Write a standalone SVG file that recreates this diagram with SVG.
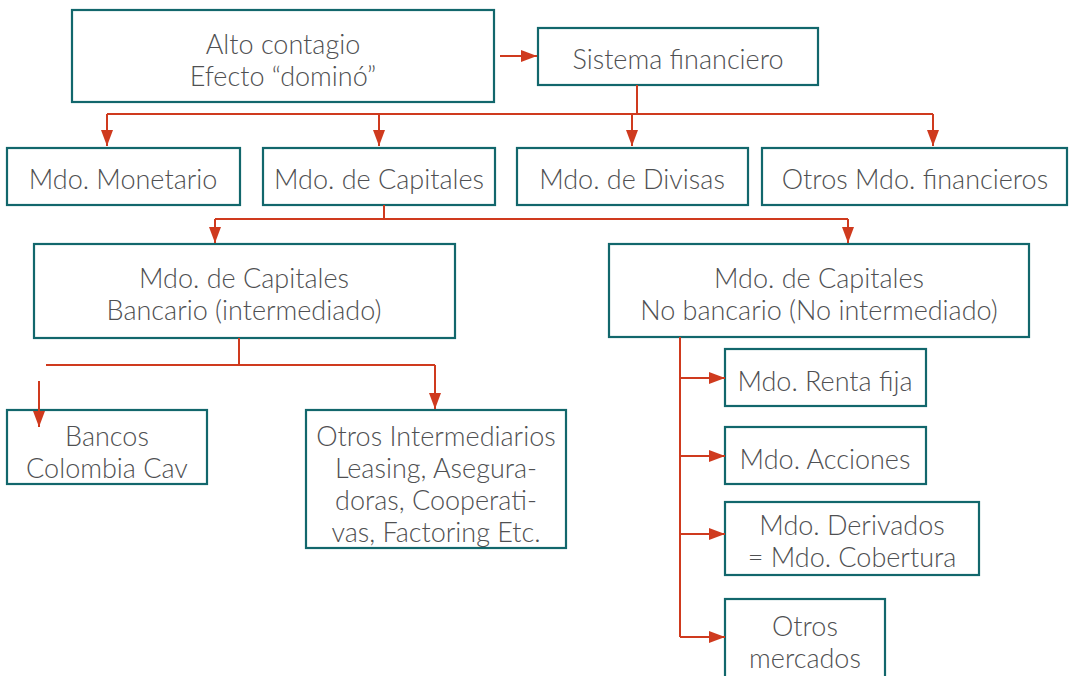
<svg xmlns="http://www.w3.org/2000/svg" width="1073" height="676" viewBox="0 0 1073 676">
<defs>
<marker id="ah" markerWidth="16" markerHeight="12" refX="16" refY="6" orient="auto" markerUnits="userSpaceOnUse">
<path d="M0,0 L16,6 L0,12 Z" fill="#cf3a1e"/>
</marker>
<style>
.box{fill:#fff;stroke:#12676c;stroke-width:2.2}
.t{font-family:Lato,"Open Sans",sans-serif;font-size:27px;font-weight:300;fill:#4f5052;text-anchor:middle}
.c{fill:none;stroke:#cf3a1e;stroke-width:2}
.a{fill:none;stroke:#cf3a1e;stroke-width:2;marker-end:url(#ah)}
</style>
</defs>
<rect width="1073" height="676" fill="#fff"/>
<g id="n_alto"><rect class="box" x="72" y="10" width="422" height="92"/>
<text class="t" x="283" y="54">Alto contagio</text><text class="t" x="283" y="86">Efecto “dominó”</text></g>
<g id="n_sistema"><rect class="box" x="538" y="28" width="280" height="57"/>
<text class="t" x="678" y="69">Sistema financiero</text></g>
<g id="n_monetario"><rect class="box" x="7" y="148" width="233" height="57"/>
<text class="t" x="123" y="189">Mdo. Monetario</text></g>
<g id="n_capitales"><rect class="box" x="263" y="148" width="232" height="57"/>
<text class="t" x="379" y="189">Mdo. de Capitales</text></g>
<g id="n_divisas"><rect class="box" x="517" y="148" width="231" height="57"/>
<text class="t" x="632" y="189">Mdo. de Divisas</text></g>
<g id="n_otros_fin"><rect class="box" x="762" y="148" width="305" height="57"/>
<text class="t" x="915" y="189">Otros Mdo. financieros</text></g>
<g id="n_bancario"><rect class="box" x="34" y="244" width="421" height="94"/>
<text class="t" x="244" y="288">Mdo. de Capitales</text><text class="t" x="244" y="320">Bancario (intermediado)</text></g>
<g id="n_nobancario"><rect class="box" x="609" y="244" width="420" height="93"/>
<text class="t" x="819" y="288">Mdo. de Capitales</text><text class="t" x="819" y="320">No bancario (No intermediado)</text></g>
<g id="n_bancos"><rect class="box" x="7" y="410" width="200" height="74"/>
<text class="t" x="107" y="446">Bancos</text><text class="t" x="107" y="478">Colombia Cav</text></g>
<g id="n_otros_int"><rect class="box" x="306" y="410" width="260" height="138"/>
<text class="t" x="436" y="446">Otros Intermediarios</text><text class="t" x="436" y="478">Leasing, Asegura-</text><text class="t" x="436" y="510">doras, Cooperati-</text><text class="t" x="436" y="542">vas, Factoring Etc.</text></g>
<g id="n_renta"><rect class="box" x="725" y="349" width="201" height="57"/>
<text class="t" x="825" y="391">Mdo. Renta fija</text></g>
<g id="n_acciones"><rect class="box" x="725" y="427" width="201" height="57"/>
<text class="t" x="825" y="469">Mdo. Acciones</text></g>
<g id="n_derivados"><rect class="box" x="725" y="502" width="254" height="73"/>
<text class="t" x="852" y="535">Mdo. Derivados</text><text class="t" x="852" y="567">= Mdo. Cobertura</text></g>
<g id="n_otros_merc"><rect class="box" x="725" y="599" width="160" height="90"/>
<text class="t" x="805" y="636">Otros</text><text class="t" x="805" y="668">mercados</text></g>
<g id="connectors">
<path class="a" d="M500,56 H537"/>
<path class="c" d="M637,85 V114 M107,114 H933"/>
<path class="a" d="M107,114 V146"/>
<path class="a" d="M379,114 V146"/>
<path class="a" d="M632,114 V146"/>
<path class="a" d="M933,114 V146"/>
<path class="c" d="M384,205 V219 M215,219 H848"/>
<path class="a" d="M215,219 V243"/>
<path class="a" d="M848,219 V243"/>
<path class="c" d="M239,338 V365 M46,365 H435"/>
<path class="a" d="M435,365 V409"/>
<path class="a" d="M39,381 V427"/>
<path class="c" d="M680,337 V637"/>
<path class="a" d="M680,378 H725"/>
<path class="a" d="M680,456 H725"/>
<path class="a" d="M680,534 H725"/>
<path class="a" d="M680,637 H725"/>
</g>
</svg>
